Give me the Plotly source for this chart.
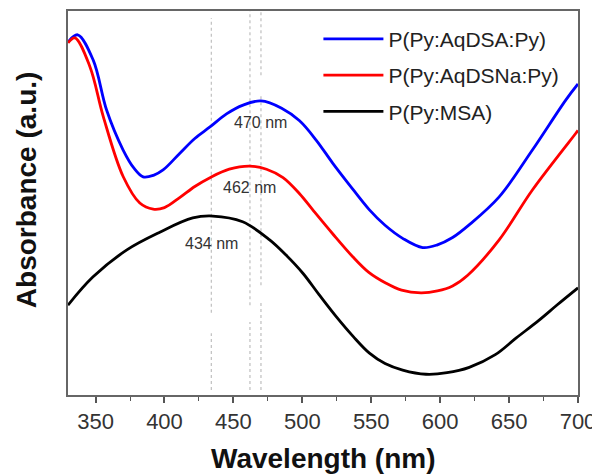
import plotly.graph_objects as go

# ---- data ----
BLUE_NAME = "P(Py:AqDSA:Py)"
BLUE_WL = [330, 337, 348.3, 358, 370, 378, 384.5, 392, 399, 411, 422, 433, 445, 457,
           470, 485, 498, 510, 522, 534, 548.7, 560, 572.8, 587.3, 598, 609, 621,
           642.8, 666.9, 691.1, 700]
BLUE_A = [0.919, 0.938, 0.872, 0.742, 0.638, 0.590, 0.568, 0.572, 0.586, 0.629, 0.668,
          0.698, 0.732, 0.755, 0.766, 0.747, 0.714, 0.664, 0.604, 0.548, 0.482, 0.442,
          0.408, 0.384, 0.391, 0.410, 0.443, 0.516, 0.638, 0.768, 0.810]

RED_NAME = "P(Py:AqDSNa:Py)"
RED_WL = [330, 335, 345.9, 355.6, 370, 382.1, 391.8, 400, 411, 422, 433, 447, 462, 474,
          486, 498, 507.6, 522, 536.6, 548, 560.8, 572, 586.1, 598, 609, 620, 642.8,
          666.9, 698.3, 700]
RED_A = [0.917, 0.930, 0.855, 0.725, 0.569, 0.500, 0.484, 0.488, 0.514, 0.543, 0.566,
         0.588, 0.596, 0.588, 0.566, 0.524, 0.482, 0.420, 0.360, 0.320, 0.291, 0.273,
         0.266, 0.271, 0.284, 0.312, 0.404, 0.534, 0.681, 0.689]

BLACK_NAME = "P(Py:MSA)"
BLACK_WL = [330, 348, 372.7, 396.6, 420.5, 435, 456.7, 476.3, 488, 500.4, 512, 524.6,
            537, 548.7, 560, 572.8, 589.7, 605, 621.1, 640, 655, 671.8, 685, 700]
BLACK_A = [0.234, 0.307, 0.378, 0.424, 0.461, 0.466, 0.451, 0.404, 0.365, 0.317, 0.262,
           0.204, 0.152, 0.109, 0.082, 0.065, 0.054, 0.058, 0.072, 0.105, 0.148, 0.195,
           0.235, 0.279]

PEAK_WL = [434, 462, 470]
PEAK_LABELS = ["434 nm", "462 nm", "470 nm"]
PEAK_LABEL_A = [0.395, 0.540, 0.710]
# visible parts of each dotted guide line (absorbance extents)
PEAK_SEGMENTS = [
    [(0.013, 0.161), (0.214, 0.982)],
    [(0.013, 0.190), (0.234, 1.0)],
    [(0.013, 0.240), (0.286, 0.781), (0.833, 1.0)],
]

X_TICKS = [350, 400, 450, 500, 550, 600, 650, 700]
X_RANGE = [330, 700]
Y_RANGE = [0, 1]

FONT = "Liberation Sans, Arial, sans-serif"

fig = go.Figure()

# dotted guide lines at the peak positions
for wl, segs in zip(PEAK_WL, PEAK_SEGMENTS):
    xs, ys = [], []
    for y0, y1 in segs:
        xs += [wl, wl, None]
        ys += [y0, y1, None]
    fig.add_trace(go.Scatter(x=xs, y=ys, mode="lines", showlegend=False,
                             hoverinfo="skip",
                             line=dict(color="#c4c4c4", width=1.3, dash="dot")))

for name, wl, a, col in [(BLUE_NAME, BLUE_WL, BLUE_A, "#0000ff"),
                         (RED_NAME, RED_WL, RED_A, "#ff0000"),
                         (BLACK_NAME, BLACK_WL, BLACK_A, "#000000")]:
    fig.add_trace(go.Scatter(x=wl, y=a, mode="lines", name=name, legendgroup=name,
                             line=dict(color=col, width=2.8, shape="spline",
                                       smoothing=1.0)))

for wl, lab, ya in zip(PEAK_WL, PEAK_LABELS, PEAK_LABEL_A):
    fig.add_annotation(x=wl, y=ya, text=lab, showarrow=False,
                       font=dict(family=FONT, size=16, color="#333333"),
                       xanchor="center", yanchor="middle")

# axis titles
fig.add_annotation(x=0.5, y=-0.166, xref="paper", yref="paper",
                   text="<b>Wavelength (nm)</b>", showarrow=False,
                   xanchor="center", yanchor="middle",
                   font=dict(family=FONT, size=28, color="#111111"))
fig.add_annotation(x=-0.080, y=0.534, xref="paper", yref="paper",
                   text="<b>Absorbance (a.u.)</b>", showarrow=False, textangle=-90,
                   xanchor="center", yanchor="middle",
                   font=dict(family=FONT, size=28, color="#111111"))

# the page body adds an 8 px offset, so the figure is 8 px smaller on each side
fig.update_layout(
    width=592, height=468,
    margin=dict(l=60, r=22, t=3, b=81, autoexpand=False),
    paper_bgcolor="white", plot_bgcolor="white",
    showlegend=True,
    legend=dict(x=0.491, y=0.98, xanchor="left", yanchor="top",
                bgcolor="rgba(255,255,255,0)", borderwidth=0,
                tracegroupgap=6, itemwidth=60,
                font=dict(family=FONT, size=21, color="#222222")),
    xaxis=dict(range=X_RANGE, tickvals=X_TICKS, ticks="outside", ticklen=6,
               tickwidth=1.5, tickcolor="#555555", showgrid=False, zeroline=False,
               showline=True, linecolor="#666666", linewidth=2, mirror=True,
               automargin=False, ticklabeloverflow="allow",
               tickfont=dict(family=FONT, size=22, color="#333333"),
               minor=dict(ticks="outside", ticklen=4, tickwidth=1.2,
                          tickcolor="#555555", dtick=25, tick0=350, showgrid=False)),
    yaxis=dict(range=Y_RANGE, showticklabels=False, ticks="", showgrid=False,
               zeroline=False, showline=True, linecolor="#666666", linewidth=2,
               mirror=True, automargin=False),
)

fig.write_html("out.html")
